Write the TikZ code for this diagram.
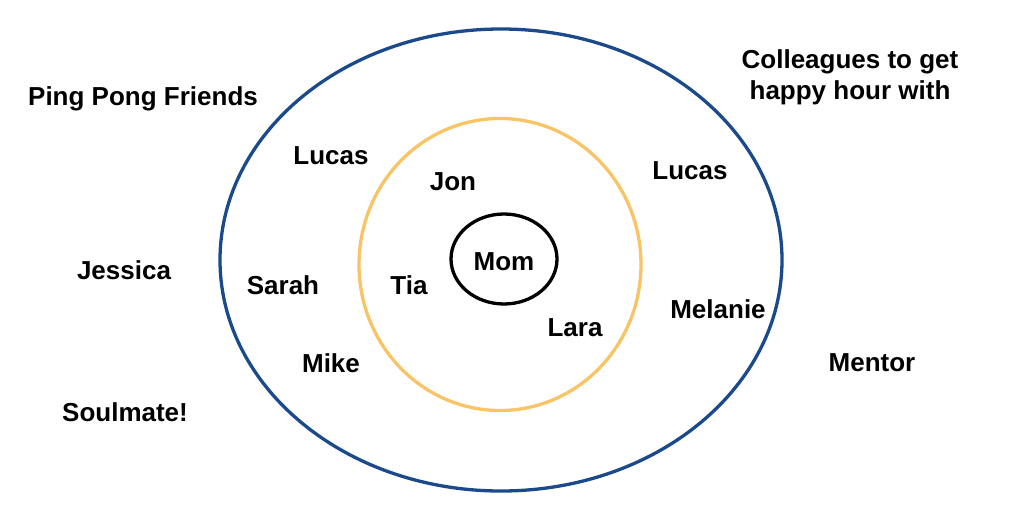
\documentclass[tikz,border=0pt]{standalone}
\usepackage{fontspec}
\setmainfont{Liberation Sans}
\definecolor{navy}{HTML}{1B4A8C}
\definecolor{gold}{HTML}{F8C465}
\begin{document}
\begin{tikzpicture}[x=1pt,y=-1pt,
  lbl/.style={font=\fontsize{26}{31}\selectfont\bfseries, inner sep=0pt, align=center},
  ring/.style={line width=3.3pt}]
\useasboundingbox (0,0) rectangle (1024,520);
\fill[white] (0,0) rectangle (1024,520);
\draw[ring, navy] (501,260) ellipse [x radius=281, y radius=231];
\draw[ring, gold] (500,264.5) ellipse [x radius=141, y radius=146];
\draw[ring, black] (504,259) ellipse [x radius=53, y radius=45];
\node[lbl] (ppf) at (143,99) {Ping Pong Friends};
\node[lbl] (col) at (850,77) {Colleagues to get\\happy hour with};
\node[lbl] (lucasL) at (331,156) {Lucas};
\node[lbl] (jon) at (453,182) {Jon};
\node[lbl] (lucasR) at (690,171) {Lucas};
\node[lbl] (jessica) at (124,270) {Jessica};
\node[lbl] (sarah) at (283,285) {Sarah};
\node[lbl] (tia) at (409,285) {Tia};
\node[lbl] (mom) at (504,262) {Mom};
\node[lbl] (lara) at (575,328) {Lara};
\node[lbl] (melanie) at (718,309) {Melanie};
\node[lbl] (mike) at (331,363) {Mike};
\node[lbl] (mentor) at (872,363) {Mentor};
\node[lbl] (soul) at (125,412) {Soulmate!};
\end{tikzpicture}
\end{document}
